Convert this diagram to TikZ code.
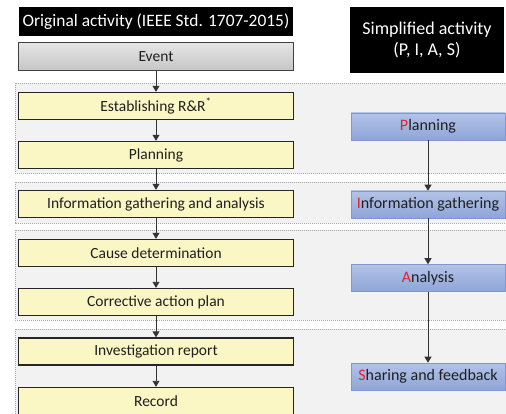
\documentclass[tikz,border=0pt]{standalone}
\usepackage{fontspec}
\setmainfont{Carlito}
\usetikzlibrary{arrows.meta}
\definecolor{grp}{HTML}{F2F2F2}
\definecolor{grpline}{HTML}{A6A6A6}
\definecolor{ylw}{HTML}{FAF7C4}
\definecolor{bluetop}{HTML}{B3C3E8}
\definecolor{bluebot}{HTML}{8EA5D8}
\definecolor{blueline}{HTML}{8198CF}
\definecolor{redl}{HTML}{E8202A}
\definecolor{txt}{HTML}{1F1F1F}
\tikzset{
  grpbox/.style={fill=grp, draw=grpline, dash pattern=on 1.2pt off 0.8pt, line width=0.5pt},
  ylwbox/.style={draw=black!85, line width=1.4pt, fill=ylw, minimum width=275pt, minimum height=27pt, inner sep=0pt, text=txt, font=\fontsize{15.5}{17}\selectfont},
  evbox/.style={draw=black!75, line width=1.4pt, top color=gray!20, bottom color=gray!45, minimum width=275pt, minimum height=28pt, inner sep=0pt, text=txt, font=\fontsize{15.5}{17}\selectfont},
  bluebox/.style={draw=blueline, line width=0.6pt, top color=bluetop, bottom color=bluebot, minimum width=154pt, minimum height=27pt, inner sep=0pt, text=txt, font=\fontsize{16}{18}\selectfont},
  titlebox/.style={fill=black, text=white, inner sep=0pt, align=center},
  flow/.style={draw=black!80, line width=0.9pt, -{Triangle[width=7pt,length=6pt]}},
}
\begin{document}
\begin{tikzpicture}[x=1pt,y=-1pt]
\useasboundingbox (0,0) rectangle (506,414);
\clip (0,0) rectangle (506,414);
% group backgrounds
\fill[white] (0,0) rectangle (506,414);
\path[grpbox] (15,83) rectangle (510,173);
\path[grpbox] (15,182) rectangle (510,223);
\path[grpbox] (15,230) rectangle (510,320);
\path[grpbox] (15,329) rectangle (510,420);
% titles
\node[titlebox, minimum width=274pt, minimum height=29pt, font=\fontsize{17.4}{20}\selectfont] (t1) at (156,21.5) {Original activity (IEEE Std. 1707-2015)};
\node[titlebox, minimum width=154pt, minimum height=66pt, font=\fontsize{18}{21}\selectfont] (t2) at (427,40) {Simplified activity\\(P, I, A, S)};
% left column
\node[evbox] (ev) at (156,56.5) {Event};
\node[ylwbox] (est) at (156,106) {Establishing R\&R\textsuperscript{*}};
\node[ylwbox] (pl) at (156,155) {Planning};
\node[ylwbox] (info) at (156,204) {Information gathering and analysis};
\node[ylwbox] (cause) at (156,253) {Cause determination};
\node[ylwbox] (corr) at (156,302) {Corrective action plan};
\node[ylwbox] (inv) at (156,351.5) {Investigation report};
\node[ylwbox] (rec) at (156,401) {Record};
\draw[flow] (ev) -- (est);
\draw[flow] (est) -- (pl);
\draw[flow] (pl) -- (info);
\draw[flow] (info) -- (cause);
\draw[flow] (cause) -- (corr);
\draw[flow] (corr) -- (inv);
\draw[flow] (inv) -- (rec);
% right column
\node[bluebox] (P) at (428,126.5) {\textcolor{redl}{P}lanning};
\node[bluebox] (I) at (428,204.5) {\textcolor{redl}{I}nformation gathering};
\node[bluebox] (A) at (428,278) {\textcolor{redl}{A}nalysis};
\node[bluebox] (S) at (428,376.5) {\textcolor{redl}{S}haring and feedback};
\draw[flow] (P) -- (I);
\draw[flow] (I) -- (A);
\draw[flow] (A) -- (S);
\end{tikzpicture}
\end{document}
